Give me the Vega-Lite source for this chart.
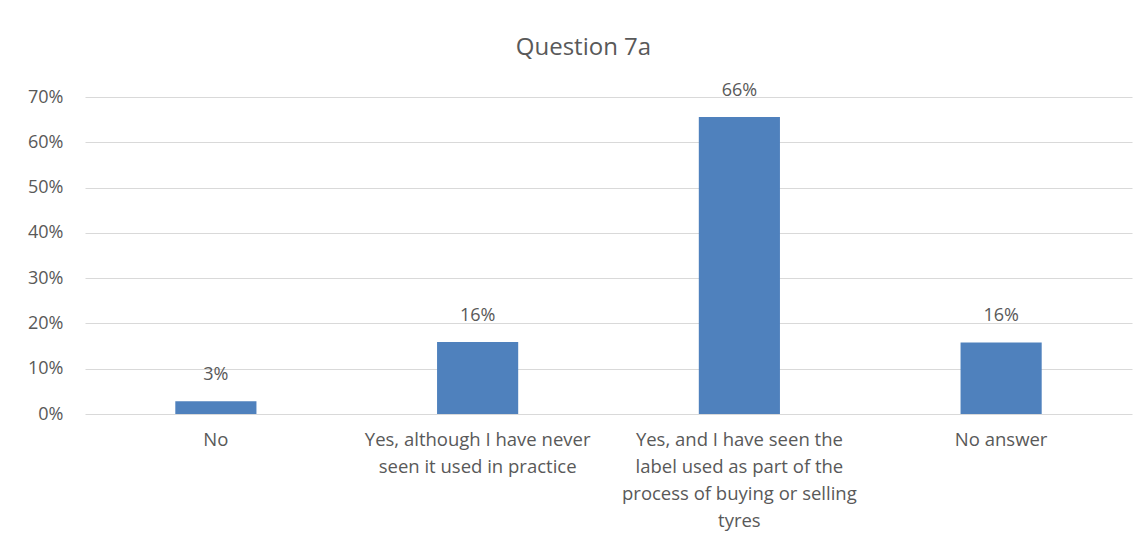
{
  "$schema": "https://vega.github.io/schema/vega-lite/v6.json",
  "width": 1047,
  "height": 317,
  "autosize": {"type": "none"},
  "padding": {"left": 85, "top": 97, "right": 15, "bottom": 137},
  "background": "white",
  "title": {
    "text": "Question 7a",
    "font": "Open Sans",
    "fontSize": 24,
    "fontWeight": "normal",
    "color": "#595959",
    "anchor": "middle",
    "frame": "group",
    "dx": -25,
    "offset": 22
  },
  "data": {
    "values": [
      {"answer": "No", "share": 0.028},
      {"answer": "Yes, although I have never seen it used in practice", "share": 0.159},
      {"answer": "Yes, and I have seen the label used as part of the process of buying or selling tyres", "share": 0.656},
      {"answer": "No answer", "share": 0.158}
    ]
  },
  "config": {
    "view": {"stroke": null},
    "font": "Open Sans"
  },
  "encoding": {
    "x": {
      "field": "answer",
      "type": "nominal",
      "sort": null,
      "scale": {"paddingInner": 0.69, "paddingOuter": 0.345},
      "axis": {
        "title": null,
        "labelAngle": 0,
        "labelFontSize": 18.5,
        "labelColor": "#595959",
        "labelFont": "Open Sans",
        "labelPadding": 16,
        "labelLineHeight": 27,
        "labelBaseline": "top",
        "labelOverlap": false,
        "labelLimit": 500,
        "ticks": false,
        "domain": false,
        "labelExpr": "datum.value == 'Yes, although I have never seen it used in practice' ? ['Yes, although I have never', 'seen it used in practice'] : datum.value == 'Yes, and I have seen the label used as part of the process of buying or selling tyres' ? ['Yes, and I have seen the', 'label used as part of the', 'process of buying or selling', 'tyres'] : datum.value"
      }
    },
    "y": {
      "field": "share",
      "type": "quantitative",
      "scale": {"domain": [0, 0.7], "nice": false},
      "axis": {
        "title": null,
        "format": ".0%",
        "values": [0, 0.1, 0.2, 0.3, 0.4, 0.5, 0.6, 0.7],
        "labelOverlap": false,
        "labelFontSize": 18,
        "labelColor": "#595959",
        "labelFont": "Open Sans",
        "labelPadding": 22,
        "ticks": false,
        "domain": false,
        "gridColor": "#D9D9D9",
        "gridWidth": 1
      }
    }
  },
  "layer": [
    {"mark": {"type": "bar", "color": "#4F81BD"}},
    {
      "mark": {"type": "text", "baseline": "bottom", "dy": -17, "fontSize": 18, "color": "#595959", "font": "Open Sans"},
      "encoding": {"text": {"field": "share", "type": "quantitative", "format": ".0%"}}
    }
  ]
}
